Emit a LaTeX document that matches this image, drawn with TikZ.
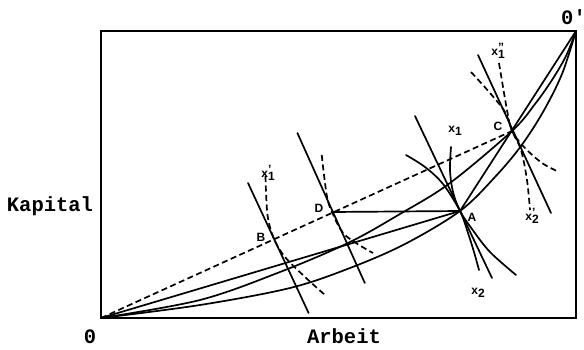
\documentclass[tikz,border=0pt]{standalone}
\usepackage{fontspec}
\setmainfont{Liberation Sans}
\newfontfamily\typew{Liberation Mono}
\newcommand{\xlab}[1]{x\rlap{\raisebox{4pt}{#1}}\raisebox{-3.5pt}{1}}
\newcommand{\xlabb}[1]{x\rlap{\raisebox{4pt}{#1}}\raisebox{-3.5pt}{2}}
\begin{document}
\begin{tikzpicture}[x=1pt,y=-1pt,
  ln/.style={line width=1.7pt,line cap=round},
  dsh/.style={line width=1.7pt,dash pattern=on 6pt off 3.5pt},
  big/.style={font=\typew\bfseries\fontsize{20.5}{22}\selectfont,inner sep=0pt},
  sml/.style={font=\bfseries\fontsize{12}{13}\selectfont,inner sep=0pt},
  crv/.style={ln,smooth,tension=0.55}]
\useasboundingbox (0,0) rectangle (584,349);
% box
\draw[line width=2pt] (101,31) rectangle (576,318);
\coordinate (O) at (101,318);
\coordinate (Op) at (576,31);
\coordinate (A) at (460,211);
\coordinate (C) at (512,131);
\coordinate (D) at (332,212);
\coordinate (B) at (274,239);
% labels
\node[big] (lO) at (90,337) {0};
\node[big,anchor=west] (lOp) at (561,17) {0'};
\node[big] (lK) at (50,206) {Kapital};
\node[big] (lA) at (344,336) {Arbeit};
\node[sml] (nA) at (472,217) {A};
\node[sml] (nB) at (261,237) {B};
\node[sml] (nC) at (498,126) {C};
\node[sml] (nD) at (319,208) {D};
\node[sml] (nx1) at (455,131) {\xlab{}};
\node[sml] (nx2) at (478,293) {\xlabb{}};
\node[sml] (nx1p) at (268,173) {\xlab{'}};
\node[sml] (nx2p) at (532,216) {\xlabb{'}};
\node[sml] (nx1pp) at (498,51) {\xlab{''}};
% rays
\draw[dsh] (O) -- (C);
\draw[ln] (O) -- (A);
\draw[ln] (Op) -- (A);
\draw[ln] (D) -- (A);
% contract curves
\draw[crv] plot coordinates {(101,318) (200,300) (280,272) (348,243) (400,214) (450,183) (512,131) (535,104) (552,80) (566,56) (576,31)};
\draw[crv] plot coordinates {(101,318) (200,305) (290,288) (350,268) (405,244) (460,211) (495,177) (521,146) (543,112) (562,74) (576,31)};
% tangent lines
\coordinate (tB1) at (248,183); \coordinate (tB2) at (308.6,313);
\coordinate (tD1) at (297.4,133); \coordinate (tD2) at (364.8,283);
\coordinate (tA1) at (415,116); \coordinate (tA2) at (492,278);
\coordinate (tC1) at (478,55); \coordinate (tC2) at (551,213);
\draw[ln] (tB1) -- (tB2);
\draw[ln] (tD1) -- (tD2);
\draw[ln] (tA1) -- (tA2);
\draw[ln] (tC1) -- (tC2);
% isoquants at A
\draw[crv] plot coordinates {(451,147) (450,170) (453,192) (460,211) (472,229) (490,252) (516,275)};
\draw[crv] plot coordinates {(406,155) (425,167) (443,184) (460,211) (468,233) (474,252) (479,270)};
% dashed isoquants
\draw[dsh,smooth,tension=0.55] plot coordinates {(265.5,176) (267.5,215) (274,239) (285,257) (305,277) (325,295)};
\draw[dsh,smooth,tension=0.55] plot coordinates {(321.7,155) (326.7,195) (332,212) (345,235) (373,253)};
\draw[dsh,smooth,tension=0.55] plot coordinates {(499,63) (507,110) (512,131) (524,147) (542,163) (559,172)};
\draw[dsh,smooth,tension=0.55] plot coordinates {(471,72) (490,93) (505,112) (512,131) (521,150) (527,180) (530,210)};
\end{tikzpicture}
\end{document}
